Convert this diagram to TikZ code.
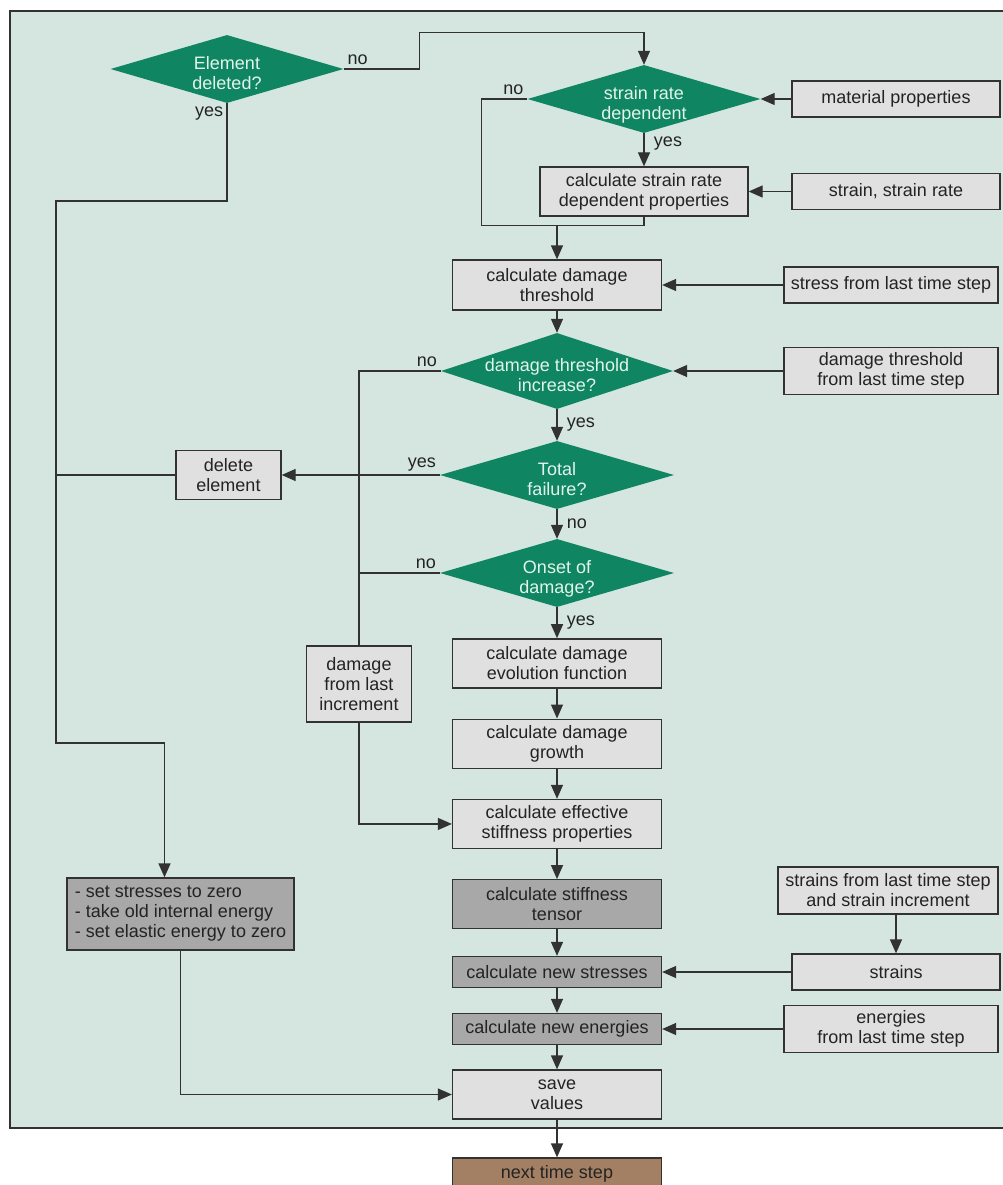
\documentclass[tikz,border=0pt]{standalone}
\usepackage{fontspec}
\setmainfont{Liberation Sans}
\usetikzlibrary{positioning,arrows.meta,shapes.geometric,calc}
\definecolor{panel}{RGB}{212,230,223}
\definecolor{decgreen}{RGB}{16,133,98}
\definecolor{dectext}{RGB}{225,245,235}
\definecolor{boxgrey}{RGB}{224,224,224}
\definecolor{darkgrey}{RGB}{168,168,168}
\definecolor{nextbrown}{RGB}{163,128,99}
\definecolor{linegrey}{RGB}{50,50,50}
\definecolor{txtgrey}{RGB}{35,35,35}
\newcommand{\dtxt}[1]{\smash{\makebox[0pt]{\raisebox{-11pt}{\begin{tabular}{@{}c@{}}#1\end{tabular}}}}}

\begin{document}
\begin{tikzpicture}[x=1pt, y=-1pt,
    node distance=30pt,
    box/.style     ={rectangle, draw=linegrey, fill=boxgrey, line width=1.3pt, inner sep=0pt,
                     align=center, text=txtgrey, font=\fontsize{18}{20}\selectfont},
    darkbox/.style ={box, fill=darkgrey},
    decision/.style={diamond, fill=decgreen, inner sep=0pt, text=dectext,
                     font=\fontsize{18}{20}\selectfont},
    arr/.style     ={-{Triangle[length=14pt,width=12pt]}, line width=1.3pt, draw=linegrey},
    con/.style     ={line width=1.3pt, draw=linegrey},
    lbl/.style     ={font=\fontsize{18}{20}\selectfont, text=txtgrey},
    ylbl/.style    ={lbl, right, xshift=6pt}]
    \useasboundingbox (0,0) rectangle (1003,1185);
    \draw[con, fill=panel] (10,11) rectangle (1008,1128);

    % decisions and main column
    \node[decision, minimum width=233pt, minimum height=68pt] (ed)  at (227,69)  {\dtxt{Element\\deleted?}};
    \node[decision, minimum width=233pt, minimum height=68pt] (srd) at (644,99)  {\dtxt{strain rate\\dependent}};
    \node[box, minimum width=208pt, minimum height=49pt]      (csr) at (644,191.5) {calculate strain rate\\dependent properties};
    \node[box, minimum width=209pt, minimum height=50pt]      (thr) at (557,285) {calculate damage\\threshold};
    \node[decision, minimum width=232pt, minimum height=76pt] (dti) at (557,371) {\dtxt{damage threshold\\increase?}};
    \node[decision, minimum width=234pt, minimum height=68pt] (tf)  at (557,475) {\dtxt{Total\\failure?}};
    \node[decision, minimum width=234pt, minimum height=68pt] (od)  at (557,573) {\dtxt{Onset of\\damage?}};
    \node[box, minimum width=209pt, minimum height=49pt, below=31pt of od] (evo)    {calculate damage\\evolution function};
    \node[box, minimum width=209pt, minimum height=49pt, below=of evo]     (growth) {calculate damage\\growth};
    \node[box, minimum width=209pt, minimum height=49pt, below=of growth]  (eff)    {calculate effective\\stiffness properties};
    \node[darkbox, minimum width=209pt, minimum height=49pt, below=of eff] (tensor) {calculate stiffness\\tensor};
    \node[darkbox, minimum width=209pt, minimum height=31pt] (stresses) at (557,972)  {calculate new stresses};
    \node[darkbox, minimum width=209pt, minimum height=31pt] (energies) at (557,1029) {calculate new energies};
    \node[box, minimum width=209pt, minimum height=49pt]     (save)     at (557,1094.5) {save\\values};
    \node[box, fill=nextbrown, minimum width=209pt, minimum height=31pt] (next) at (557,1173.5) {next time step};

    % inputs on the right
    \node[box, minimum width=208pt, minimum height=36pt] (mat)     at (896,99)    {material properties};
    \node[box, minimum width=208pt, minimum height=36pt] (ssr)     at (896,191.5) {strain, strain rate};
    \node[box, minimum width=214pt, minimum height=36pt] (sfl)     at (891,285)   {stress from last time step};
    \node[box, minimum width=214pt, minimum height=47pt] (dtl)     at (891,371)   {damage threshold\\from last time step};
    \node[box, minimum width=220pt, minimum height=47pt] (sinc)    at (888,890.5) {strains from last time step\\and strain increment};
    \node[box, minimum width=208pt, minimum height=36pt] (strains) at (896,972)   {strains};
    \node[box, minimum width=214pt, minimum height=47pt] (eng)     at (891,1029)  {energies\\from last time step};

    % left side
    \node[box, minimum width=105pt, minimum height=49pt] (del) at (228.5,475) {delete\\element};
    \node[box, minimum width=105pt, minimum height=76pt] (dfl) at (359,684)   {damage\\from last\\increment};
    \node[darkbox, align=left, minimum width=227pt, minimum height=72pt] (set) at (180.5,914)
        {- set stresses to zero\\- take old internal energy\\- set elastic energy to zero};

    % element deleted?
    \coordinate (bus) at (56,201);
    \draw[arr] (ed.east) node[lbl, above right] {no} -- ++(76,0) |- ($(srd.north)+(0,-32)$) -- (srd.north);
    \draw[arr] (ed.south) node[lbl, below left] {yes} |- (bus) -- (56,743) -| ([xshift=-16pt]set.north);
    \draw[con] (del.west) -- (del.west -| bus);
    \draw[arr] (tf.west) node[lbl, above left] {yes} -- (del.east);

    % strain rate
    \coordinate (merge) at ($(thr.north)+(0,-34)$);
    \draw[con] (srd.west) node[lbl, above left] {no} -- ++(-46,0) |- (merge);
    \draw[con] (csr.south) |- (merge);
    \draw[arr] (merge) -- (thr.north);
    \draw[arr] (srd) -- node[ylbl, pos=0.3] {yes} (csr);

    % damage
    \draw[con] (dti.west) node[lbl, above left] {no} -| (dfl.north);
    \draw[con] (od.west) node[lbl, above left] {no} -- (od.west -| dfl.north);
    \draw[arr] (dfl.south) |- (eff.west);
    \draw[arr] (dti) -- node[ylbl] {yes} (tf);
    \draw[arr] (tf) -- node[ylbl] {no} (od);
    \draw[arr] (od) -- node[ylbl] {yes} (evo);
    \foreach \a/\b in {thr/dti, evo/growth, growth/eff, eff/tensor, tensor/stresses,
                       stresses/energies, energies/save, save/next}
        \draw[arr] (\a) -- (\b);

    % inputs
    \foreach \a/\b in {mat/srd, ssr/csr, sfl/thr, dtl/dti, strains/stresses, eng/energies}
        \draw[arr] (\a) -- (\b);
    \draw[arr] (strains.north |- sinc.south) -- (strains.north);
    \draw[arr] (set.south) |- (save.west);
\end{tikzpicture}
\end{document}
